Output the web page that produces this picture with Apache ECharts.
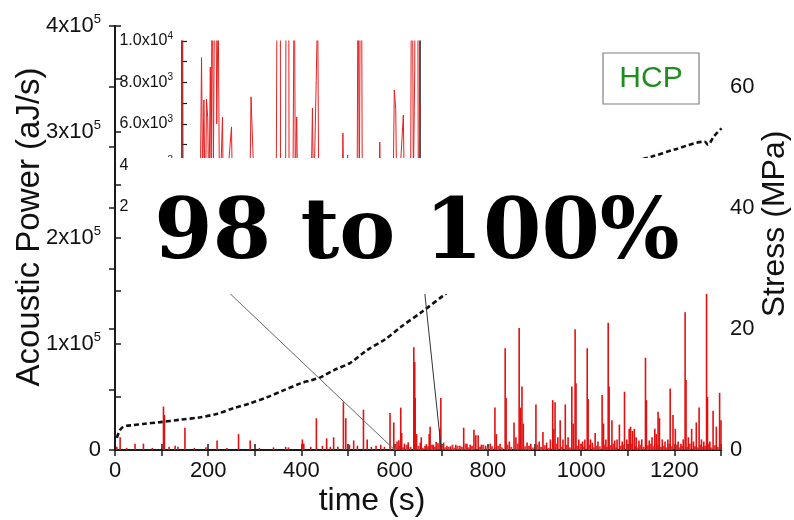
<!DOCTYPE html>
<html><head><meta charset="utf-8">
<script src="https://cdn.jsdelivr.net/npm/echarts@6.0.0/dist/echarts.min.js"></script>
<style>html,body{margin:0;padding:0;background:#fff}#c{width:794px;height:520px}</style>
</head><body><div id="c"></div><script>
// ---------- data ----------
const spikeTimes = [4,11,25,43,61,80,104,106,116,129,135,150,170,195,219,240,265,290,310,340,366,372,402,405,420,432,445,454,462,469,478,490,495,503,512,520,533,541,550,560,570,578,590,598,605,609,613,615,621,629,641,643,644,647,655,657,665,668,674,676,683,689,693,697,699,705,712,720,731,740,748,755,762,770,774,779,786,795,805,815,818,826,837,839,846,856,860,867,870,873,876,884,892,903,910,918,926,934,939,941,944,950,955,961,966,972,980,983,987,989,995,1003,1008,1013,1015,1020,1024,1030,1036,1045,1048,1053,1058,1060,1066,1072,1077,1082,1088,1093,1098,1103,1106,1110,1114,1118,1124,1130,1138,1140,1146,1152,1158,1161,1165,1168,1174,1180,1186,1191,1197,1202,1208,1214,1219,1223,1225,1230,1237,1241,1247,1253,1258,1263,1269,1271,1276,1283,1290,1297,1300];
const spikePower = [3000,12000,2000,6000,6000,2000,41000,33000,3000,4000,3000,21000,2000,2500,9000,2000,15000,9000,2000,2500,3000,2500,10000,6000,3000,30000,4000,11000,3000,12000,3000,45000,30000,5000,9000,4000,38000,10000,3000,4000,5000,3000,35000,26000,8000,9200,40000,16000,6000,7300,97000,83000,49000,15000,7000,12000,4000,5500,15000,22000,5000,7600,6400,20000,49000,7000,4000,3500,5000,4000,21000,6000,5000,19000,14000,14000,5000,4000,6000,40000,15000,6000,96000,49000,8000,26000,12000,115000,40000,60000,25000,7000,6000,43000,8000,17000,7000,10000,47000,20000,45000,12000,28000,10000,43000,12000,60000,25000,114000,63000,10000,8000,10000,96000,48000,10000,7000,16000,8000,52000,25000,10000,120000,60000,28000,9000,10000,24000,8000,55000,10000,20000,22000,18000,20000,12000,9000,10000,87000,47000,9000,12000,20000,15000,36000,30000,10000,8000,10000,58000,33000,20000,8000,6000,10000,130000,66000,12000,20000,8000,26000,40000,10000,8000,150000,50000,8000,37000,22000,54000,28000];
const noiseTimes = [602,610,618,626,634,651,660,671,680,686,702,709,716,724,728,735,744,752,758,766,783,790,799,809,822,830,842,850,864,880,888,896,906,914,922,930,947,958,969,976,992,999,1006,1018,1027,1033,1040,1050,1056,1063,1069,1075,1085,1091,1101,1108,1116,1121,1127,1134,1143,1149,1155,1163,1171,1177,1183,1189,1194,1205,1211,1217,1228,1233,1244,1250,1256,1261,1266,1274,1279,1287,1293];
const noisePower = [3000,4000,2500,5000,3000,4000,2000,3500,5000,3000,4500,2500,3000,5000,2000,4000,3000,6000,2500,4000,3000,5000,2000,3500,4000,2500,5000,3000,6000,3500,4000,2500,5000,3000,4500,2000,6000,3000,5000,2500,4000,6000,3000,5000,2500,4000,3500,5000,3000,4500,6000,2500,4000,5000,3000,6000,4000,2500,5000,3000,4500,6000,3500,5000,3000,4000,2500,6000,3500,5000,2500,4000,3000,6000,3500,2500,5000,3000,4000,6000,2500,4500,3000];

const stressTimes = [4,10,17,25,39,60,97,140,183,220,254,290,326,360,398,420,441,470,505,541,580,613,660,706,760,820,880,940,1000,1060,1100,1123,1150,1200,1265,1272,1285,1301];
const stressValues = [2.0,3.2,3.8,4.0,4.1,4.3,4.6,5.0,5.4,6.0,6.9,7.7,8.7,9.8,11.0,11.5,12.0,13.2,14.4,16.5,18.3,20.3,22.9,25.6,28.8,32.3,35.7,39.0,42.1,45.0,46.9,47.8,48.4,49.6,50.9,50.4,51.8,53.1];

const insetTimes = [600,600.5,605,607.6,608.2,608.7,609.2,609.8,610.3,610.8,611.3,611.9,612.3,612.6,613.2,614.0,614.6,615.2,615.8,617.0,617.5,620.8,621.4,625,628.4,629.0,630.0,630.8,635,639.5,640.2,640.8,641.4,643.5,644.0,644.5,645.0,646.5,647.2,647.6,648.2,648.8,651,654.0,654.8,655.3,656.4,657.0,657.5,662,667.2,667.6,668.2,669.6,670.2,673.5,674.0,674.5,675.2,675.8,679,682.5,683.1,683.7,686,688.6,689.2,689.8,690.4,693.0,693.6,696.0,696.6,697.2,697.8,698.4,699.3,700];
const insetPower = [26000,800,500,1500,9200,3000,7150,1200,7200,6300,2000,8740,2500,15000,4000,18000,6000,12000,1500,6330,1000,5850,800,1500,1500,7300,4000,500,2000,500,20000,97000,1000,1000,30000,40000,2000,500,15000,3000,6330,800,1500,800,6760,2000,8100,12000,1500,1800,1000,5550,1500,4500,1000,500,15000,2000,22000,1000,1500,800,5120,800,1200,1500,7630,6700,1200,6420,1000,1000,20000,3000,8650,49000,1500,7000];

const xLabelStep = 200;
const powerLabelStep = 100000;
const stressLabels = [0,20,40,60];
const insetLabelStep = 2000;

// ---------- chart ----------
const chart = echarts.init(document.getElementById('c'), null, {renderer:'canvas'});
const FF = '"Liberation Sans", Arial, sans-serif';
const axCol = '#1a1a1a';
const pair = (a,b) => a.map((t,i)=>[t,b[i]]);
const supFmt = (base, exp) => `{m|${base}x10}{s|${exp}}`;

function spikeRenderer(color, width){
  return function(params, api){
    const t = api.value(0), v = api.value(1);
    const p0 = api.coord([t, 0]);
    const p1 = api.coord([t, v]);
    return {type:'line', shape:{x1:p0[0], y1:p0[1], x2:p1[0], y2:p1[1]},
            style:{stroke:color, lineWidth:width}};
  };
}

const option = {
  animation:false,
  backgroundColor:'#fff',
  grid:[
    {left:115, top:26, width:606, height:424, containLabel:false},
    {left:182, top:41, width:238, height:207, containLabel:false}
  ],
  xAxis:[
    {type:'value', gridIndex:0, min:0, max:1300, interval:100, position:'bottom',
     axisLine:{lineStyle:{color:axCol,width:2}},
     axisTick:{inside:true,length:6,lineStyle:{color:axCol,width:1.5}},
     axisLabel:{formatter:v=> v%xLabelStep===0? String(v):'', fontSize:22, color:'#111', margin:10, fontFamily:FF},
     splitLine:{show:false}},
    {type:'value', gridIndex:0, min:0, max:1300, interval:100, position:'top',
     axisLine:{lineStyle:{color:axCol,width:2}},
     axisTick:{inside:true,length:6,lineStyle:{color:axCol,width:1.5}},
     axisLabel:{show:false}, splitLine:{show:false}},
    {type:'value', gridIndex:1, min:600, max:700, interval:10, position:'top',
     axisLine:{lineStyle:{color:axCol,width:1.5}},
     axisTick:{inside:true,length:5,lineStyle:{color:axCol,width:1.2}},
     axisLabel:{show:false}, splitLine:{show:false}},
    {type:'value', gridIndex:1, min:600, max:700, interval:10, position:'bottom',
     axisLine:{lineStyle:{color:axCol,width:1.5}},
     axisTick:{show:false}, axisLabel:{show:false}, splitLine:{show:false}}
  ],
  yAxis:[
    {type:'value', gridIndex:0, min:0, max:400000, interval:50000, position:'left',
     axisLine:{show:true,lineStyle:{color:axCol,width:2}},
     axisTick:{show:true,inside:true,length:6,lineStyle:{color:axCol,width:1.5}},
     axisLabel:{formatter:v=> v===0?'{m|0}':(v%powerLabelStep===0? supFmt(v/100000,5):''),
       margin:14, color:'#111', fontFamily:FF,
       rich:{m:{fontSize:22,fontFamily:FF,color:'#111'}, s:{fontSize:13,fontFamily:FF,color:'#111',padding:[0,0,14,0]}}},
     splitLine:{show:false}},
    {type:'value', gridIndex:0, min:0, max:70, interval:10, position:'right',
     axisLine:{show:true,lineStyle:{color:axCol,width:2}},
     axisTick:{show:true,inside:true,length:6,lineStyle:{color:axCol,width:1.5}},
     axisLabel:{formatter:v=> stressLabels.includes(v)? String(v):'', fontSize:22, margin:9, color:'#111', fontFamily:FF},
     splitLine:{show:false}},
    {type:'value', gridIndex:1, min:0, max:10000, interval:1000, position:'left',
     axisLine:{show:true,lineStyle:{color:axCol,width:1.5}},
     axisTick:{show:true,inside:true,length:5,lineStyle:{color:axCol,width:1.2}},
     axisLabel:{formatter:v=> v===0?'{m|0}':(v%insetLabelStep===0?(v===10000?supFmt('1.0',4):supFmt((v/1000).toFixed(1),3)):''),
       margin:9, color:'#111', fontFamily:FF,
       rich:{m:{fontSize:16,fontFamily:FF,color:'#111'}, s:{fontSize:10,fontFamily:FF,color:'#111',padding:[0,0,10,0]}}},
     splitLine:{show:false}},
    {type:'value', gridIndex:1, min:0, max:10000, position:'right',
     axisLine:{show:true,lineStyle:{color:axCol,width:1.5}},
     axisTick:{show:false}, axisLabel:{show:false}, splitLine:{show:false}}
  ],
  series:[
    {type:'custom', xAxisIndex:0, yAxisIndex:0, data:pair(noiseTimes,noisePower),
     encode:{x:0,y:1}, renderItem:spikeRenderer('#f03030',2), z:2},
    {type:'custom', xAxisIndex:0, yAxisIndex:0, data:pair(spikeTimes,spikePower),
     encode:{x:0,y:1}, renderItem:spikeRenderer('#e31010',1.6), z:3},
    {type:'line', xAxisIndex:0, yAxisIndex:1, data:pair(stressTimes,stressValues), smooth:0.3, showSymbol:false,
     lineStyle:{color:'#111', width:2.6, type:[5,3]}, z:5},
    {type:'line', xAxisIndex:2, yAxisIndex:2, data:pair(insetTimes,insetPower), showSymbol:false, clip:true,
     lineStyle:{color:'#e42222', width:1}, z:4}
  ],
  graphic:[
    {id:'ytitleL', type:'text', x:30, y:227, rotation:Math.PI/2,
     style:{text:'Acoustic Power (aJ/s)', font:'33px '+FF, fill:'#111', align:'center', verticalAlign:'middle'}, z:10},
    {id:'ytitleR', type:'text', x:775, y:224, rotation:Math.PI/2,
     style:{text:'Stress (MPa)', font:'32px '+FF, fill:'#111', align:'center', verticalAlign:'middle'}, z:10},
    {id:'xtitle', type:'text', x:372, y:501,
     style:{text:'time (s)', font:'32px '+FF, fill:'#111', align:'center', verticalAlign:'middle'}, z:10},
    {id:'box', type:'rect', shape:{x:128,y:158,width:586,height:136}, style:{fill:'#fff'}, z:100},
    {id:'big', type:'text', x:417, y:236, style:{text:'98 to 100%', font:'bold 84px "DejaVu Serif", serif', fill:'#000', align:'center', verticalAlign:'middle'}, z:101},
    {id:'hcpbox', type:'rect', shape:{x:603,y:53,width:96,height:51}, style:{fill:'#fff', stroke:'#808080', lineWidth:1.2}, z:90},
    {id:'hcp', type:'text', x:651, y:79, style:{text:'HCP', font:'30px '+FF, fill:'#1e8c1e', align:'center', verticalAlign:'middle'}, z:91}
  ]
};
chart.setOption(option);

// connector lines between the inset window and the main time axis (from the library's scales)
const iL = chart.convertToPixel({gridIndex:1}, [600,0]);
const iR = chart.convertToPixel({gridIndex:1}, [700,0]);
const mL = chart.convertToPixel({gridIndex:0}, [600,0]);
const mR = chart.convertToPixel({gridIndex:0}, [700,0]);
chart.setOption({graphic:[
  {id:'l1', type:'line', shape:{x1:iL[0],y1:iL[1],x2:mL[0],y2:mL[1]}, style:{stroke:'#666',lineWidth:1}, z:50},
  {id:'l2', type:'line', shape:{x1:iR[0],y1:iR[1],x2:mR[0],y2:mR[1]}, style:{stroke:'#333',lineWidth:1}, z:50}
]});
</script></body></html>
